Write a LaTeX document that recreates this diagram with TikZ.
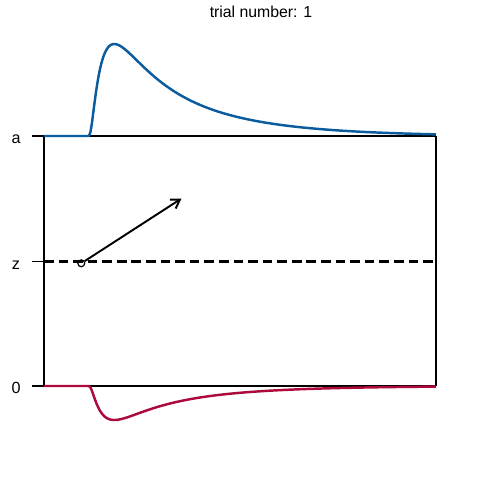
\documentclass[tikz,border=0pt]{standalone}
\usepackage{fontspec}
\setmainfont{Liberation Sans}
\usetikzlibrary{arrows.meta}
\definecolor{ink}{HTML}{000000}
\definecolor{upcol}{HTML}{0B5C9E}
\definecolor{lowcol}{HTML}{AD0A3C}

\begin{document}
\begin{tikzpicture}[x=0.02cm, y=-0.02cm,
  declare function={dens(\t)=exp(-ln(\t/26)-((ln(\t)-4.258)*(ln(\t)-4.258)-1)/2-(\t/400)^3);},
  frame/.style={ink, line width=0.6pt},
  boundlab/.style={font=\fontsize{9.2}{10}\selectfont, anchor=base},
  curve/.style={line width=1.4pt, line join=round},
  fl/.style={-{Straight Barb[length=1.7mm, width=2.1mm]}, ink, line width=1.1pt}]

\useasboundingbox (0,0) rectangle (480,480);

\def\ya{136}  % upper bound
\def\yz{261.5}% start point
\def\yo{386}  % lower bound
\def\tnd{88.3}% first response

% ---- title ---------------------------------------------------------------
\node[font=\fontsize{9}{10}\selectfont, anchor=base east] (title) at (318.5,17.5)
  {trial number: 1};

% ---- frame ---------------------------------------------------------------
\draw[frame] (32,\ya) -- (436,\ya);
\draw[frame] (32,\yo) -- (436,\yo);
\draw[frame] (32,\yz) -- (44,\yz);
\draw[frame] (44,\ya) -- (44,\yo);
\draw[frame] (436,\ya) -- (436,\yo);
\draw[ink, line width=1.2pt, dash pattern=on 5.5pt off 2.8pt] (44,\yz) -- (436,\yz);

\node[boundlab] (laba) at (16,{\ya+7.5}) {a};
\node[boundlab] (labz) at (16,{\yz+7.5}) {z};
\node[boundlab] (labo) at (16,{\yo+7.5}) {0};

% ---- densities -----------------------------------------------------------
\draw[curve, upcol] (44,\ya) -- (\tnd,\ya)
  -- plot[domain=0.5:347.7, samples=220, smooth] ({\tnd+\x},{\ya-92*dens(\x)});
\draw[curve, lowcol] (44,\yo) -- (\tnd,\yo)
  -- plot[domain=0.5:347.7, samples=220, smooth] ({\tnd+\x},{\yo+34*dens(\x)});

% ---- drift ---------------------------------------------------------------
\node[circle, draw=ink, line width=0.7pt, minimum size=3.9pt, inner sep=0pt]
  (start) at (81.3,263.3) {};
\coordinate (tip) at (181.5,198.5);
\draw[fl] (start) -- (tip);

\end{tikzpicture}
\end{document}
